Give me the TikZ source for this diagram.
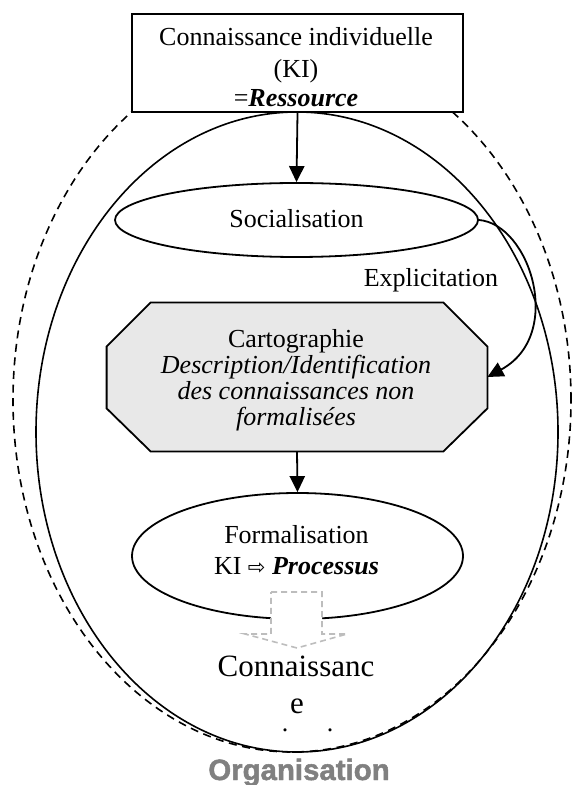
\documentclass[tikz,border=0pt]{standalone}
\usepackage{fontspec}
\setmainfont{Liberation Serif}
\newfontfamily\symfont{DejaVu Sans}
\newfontfamily\orgfont{Liberation Sans Bold}[FakeBold=1.6]
\usetikzlibrary{arrows.meta,calc,shapes.geometric}
\definecolor{cartofill}{HTML}{E8E8E8}
\definecolor{orggray}{HTML}{808080}
\definecolor{blockgray}{HTML}{BDBDBD}
\begin{document}
\begin{tikzpicture}[x=0.5pt,y=-0.5pt,
  thinline/.style={line width=0.9pt},
  arr/.style={line width=0.9pt,-{Triangle[length=8pt,width=7.6pt]}},
  txt/.style={anchor=base,inner sep=0pt,font=\fontsize{13}{15.5}\selectfont},
  itxt/.style={txt,font=\fontsize{13}{13}\selectfont\itshape},
  bigtxt/.style={anchor=base,inner sep=0pt,font=\fontsize{15.5}{18}\selectfont},
  oval/.style={ellipse,draw,inner sep=0pt,line width=0.9pt},
  dashoutline/.style={ellipse,draw,inner sep=0pt,line width=0.8pt,dash pattern=on 4pt off 2.8pt},
  blockarrow/.style={draw=blockgray,fill=white,line width=0.8pt,dash pattern=on 3pt off 2pt},
  orglabel/.style={anchor=base,inner sep=0pt,text=orggray,font=\orgfont\fontsize{14.7}{16}\selectfont}]
\useasboundingbox (0,0) rectangle (575,785);

% organisation outlines
\node[dashoutline,minimum width=279pt,minimum height=352pt] (orgdash) at (292,400) {};
\node[oval,line width=0.8pt,minimum width=261pt,minimum height=320pt] (org) at (297,432) {};

% top box
\node[draw,fill=white,line width=0.9pt,inner sep=0pt,minimum width=165.5pt,minimum height=49pt] (ki) at (297.5,63) {};
\node[txt] (ki1) at (296,46) {Connaissance individuelle};
\node[txt] (ki2) at (296,78) {(KI)};
\node[txt] (ki3) at (296,107) {=\textbf{\textit{Ressource}}};

% socialisation
\node[oval,fill=white,minimum width=181.5pt,minimum height=37pt] (soc) at (296.5,220) {};
\node[txt] (soctext) at (296.5,228) {Socialisation};

% cartographie
\node[inner sep=0pt,minimum width=190pt,minimum height=74pt] (carto) at (297,377) {};
\draw[thinline,fill=cartofill]
  ($(carto.north west)+(44,0)$) -- ($(carto.north east)+(-44,0)$) --
  ($(carto.north east)+(0,44)$) -- ($(carto.south east)+(0,-43)$) --
  ($(carto.south east)+(-44,0)$) -- ($(carto.south west)+(44,0)$) --
  ($(carto.south west)+(0,-43)$) -- ($(carto.north west)+(0,44)$) -- cycle;
\node[txt] (c1) at (296,348) {Cartographie};
\node[itxt] (c2) at (296,373.5) {Description/Identification};
\node[itxt] (c3) at (296,399.5) {des connaissances non};
\node[itxt] (c4) at (296,425.5) {formalisées};

% explicitation
\node[txt] (expl) at (431,287) {Explicitation};

% formalisation
\node[oval,fill=white,minimum width=165.5pt,minimum height=63pt] (formal) at (297.5,556) {};
\node[txt] (f1) at (296.5,543) {Formalisation};
\node[txt] (f2) at (296.5,574) {KI {\symfont\fontsize{10.5}{12}\selectfont ⇨} \textbf{\textit{Processus}}};

% grey block arrow
\draw[blockarrow] (271,592) -- (322,592) -- (322,634) -- (347,634) -- (297,648) -- (245,634) -- (271,634) -- cycle;

% connaissance text
\node[bigtxt] (k1) at (296,676) {Connaissanc};
\node[bigtxt] (k2) at (297,713) {e};
\node[txt] (d1) at (285,731) {.};
\node[txt] (d2) at (330,731) {.};

% organisation label
\node[orglabel] (orgname) at (299,780) {Organisation};

% connectors
\draw[arr] (ki.south) -- (soc.north);
\draw[arr] (carto.south) -- (formal.north);
\draw[arr] (soc.east) .. controls (530,224) and (565,335) .. (carto.east);
\end{tikzpicture}
\end{document}
